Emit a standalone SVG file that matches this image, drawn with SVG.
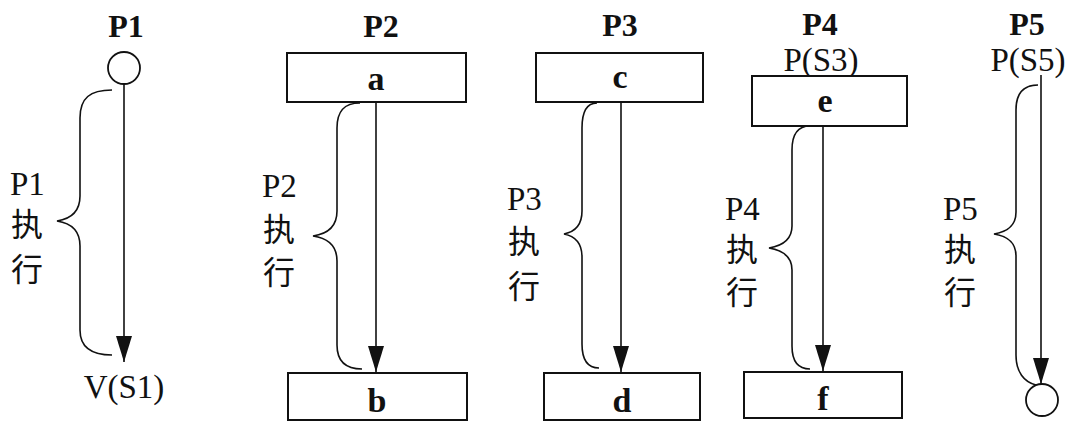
<svg xmlns="http://www.w3.org/2000/svg" width="1077" height="421" viewBox="0 0 1077 421">
<style>
.box{fill:#fff;stroke:#111;stroke-width:2}
.circ{fill:#fff;stroke:#111;stroke-width:1.8}
.line{fill:none;stroke:#111;stroke-width:1.6}
.brace{fill:none;stroke:#111;stroke-width:1.6}
.title{font-family:'Liberation Serif','Noto Sans CJK SC',serif;font-weight:bold;font-size:32px;fill:#111;text-anchor:middle}
.lbl{font-family:'Liberation Serif','Noto Sans CJK SC',serif;font-size:33px;fill:#111}
.cjk{font-family:'Noto Sans CJK SC',sans-serif;font-size:32px}
.sem{font-family:'Liberation Serif',serif;font-size:33px;fill:#111;text-anchor:middle}
.let{font-family:'Liberation Serif',serif;font-weight:bold;font-size:34px;fill:#111;text-anchor:middle}
</style>
<defs>
<marker id="ah" markerUnits="userSpaceOnUse" markerWidth="26" markerHeight="16" viewBox="0 0 26 16" refX="26" refY="8" orient="auto">
<path d="M0,0 L26,8 L0,16 z" fill="#111"/>
</marker>
</defs>
<rect width="1077" height="421" fill="#fff"/>

<g id="P1">
<text class="title" x="126" y="37">P1</text>
<circle class="circ" cx="124" cy="68" r="16"/>
<text class="sem" x="124" y="398">V(S1)</text>
<text class="lbl" x="10" y="195">P1<tspan class="cjk" x="11" y="236">执</tspan><tspan class="cjk" x="11" y="281">行</tspan></text>
</g>

<g id="P2">
<text class="title" x="381" y="37">P2</text>
<rect class="box" x="287" y="53" width="179" height="49"/>
<text class="let" x="376" y="90">a</text>
<rect class="box" x="288" y="373" width="179" height="47"/>
<text class="let" x="377" y="412">b</text>
<text class="lbl" x="262" y="197">P2<tspan class="cjk" x="263" y="241">执</tspan><tspan class="cjk" x="263" y="284">行</tspan></text>
</g>

<g id="P3">
<text class="title" x="620" y="36">P3</text>
<rect class="box" x="536" y="53" width="167" height="49"/>
<text class="let" x="620" y="88">c</text>
<rect class="box" x="544" y="373" width="156" height="47"/>
<text class="let" x="622" y="412">d</text>
<text class="lbl" x="507" y="210">P3<tspan class="cjk" x="508" y="253">执</tspan><tspan class="cjk" x="508" y="298">行</tspan></text>
</g>

<g id="P4">
<text class="title" x="820" y="35">P4</text>
<text class="sem" x="821" y="71">P(S3)</text>
<rect class="box" x="752" y="76" width="155" height="50"/>
<text class="let" x="825" y="112">e</text>
<rect class="box" x="744" y="372" width="158" height="46"/>
<text class="let" x="823" y="410">f</text>
<text class="lbl" x="725" y="220">P4<tspan class="cjk" x="726" y="261">执</tspan><tspan class="cjk" x="726" y="304">行</tspan></text>
</g>

<g id="P5">
<text class="title" x="1027" y="35">P5</text>
<text class="sem" x="1028" y="71">P(S5)</text>
<circle class="circ" cx="1042" cy="400" r="16"/>
<text class="lbl" x="943" y="220">P5<tspan class="cjk" x="944" y="261">执</tspan><tspan class="cjk" x="944" y="304">行</tspan></text>
</g>

<g id="connectors">
<line class="line" x1="124" y1="84" x2="124" y2="362" marker-end="url(#ah)"/>
<line class="line" x1="376" y1="102" x2="376" y2="372" marker-end="url(#ah)"/>
<line class="line" x1="621" y1="102" x2="621" y2="372" marker-end="url(#ah)"/>
<line class="line" x1="823" y1="126" x2="823" y2="371" marker-end="url(#ah)"/>
<line class="line" x1="1041" y1="75" x2="1041" y2="384" marker-end="url(#ah)"/>
<path class="brace" d="M112,90 C90,90 80,98 80,118 L80,196 C80,212 70,219 57,221 C70,223 80,230 80,246 L80,330 C80,346 90,355 112,355"/>
<path class="brace" d="M360,103 C344,103 337,111 337,128 L337,211 C337,227 327,234 313,236 C327,238 337,245 337,261 L337,345 C337,360 345,369 362,369"/>
<path class="brace" d="M597,103 C587,103 582,111 582,128 L582,211 C582,226 574,232 564,234 C574,236 582,242 582,257 L582,344 C582,360 588,368 599,368"/>
<path class="brace" d="M810,126 C798,126 792,134 792,150 L792,226 C792,241 781,246 769,248 C781,250 792,255 792,270 L792,346 C792,361 798,369 810,369"/>
<path class="brace" d="M1038,85 C1024,85 1016,93 1016,110 L1016,212 C1016,227 1006,232 994,234 C1006,236 1016,241 1016,256 L1016,355 C1016,372 1024,382 1036,385"/>
</g>
</svg>
